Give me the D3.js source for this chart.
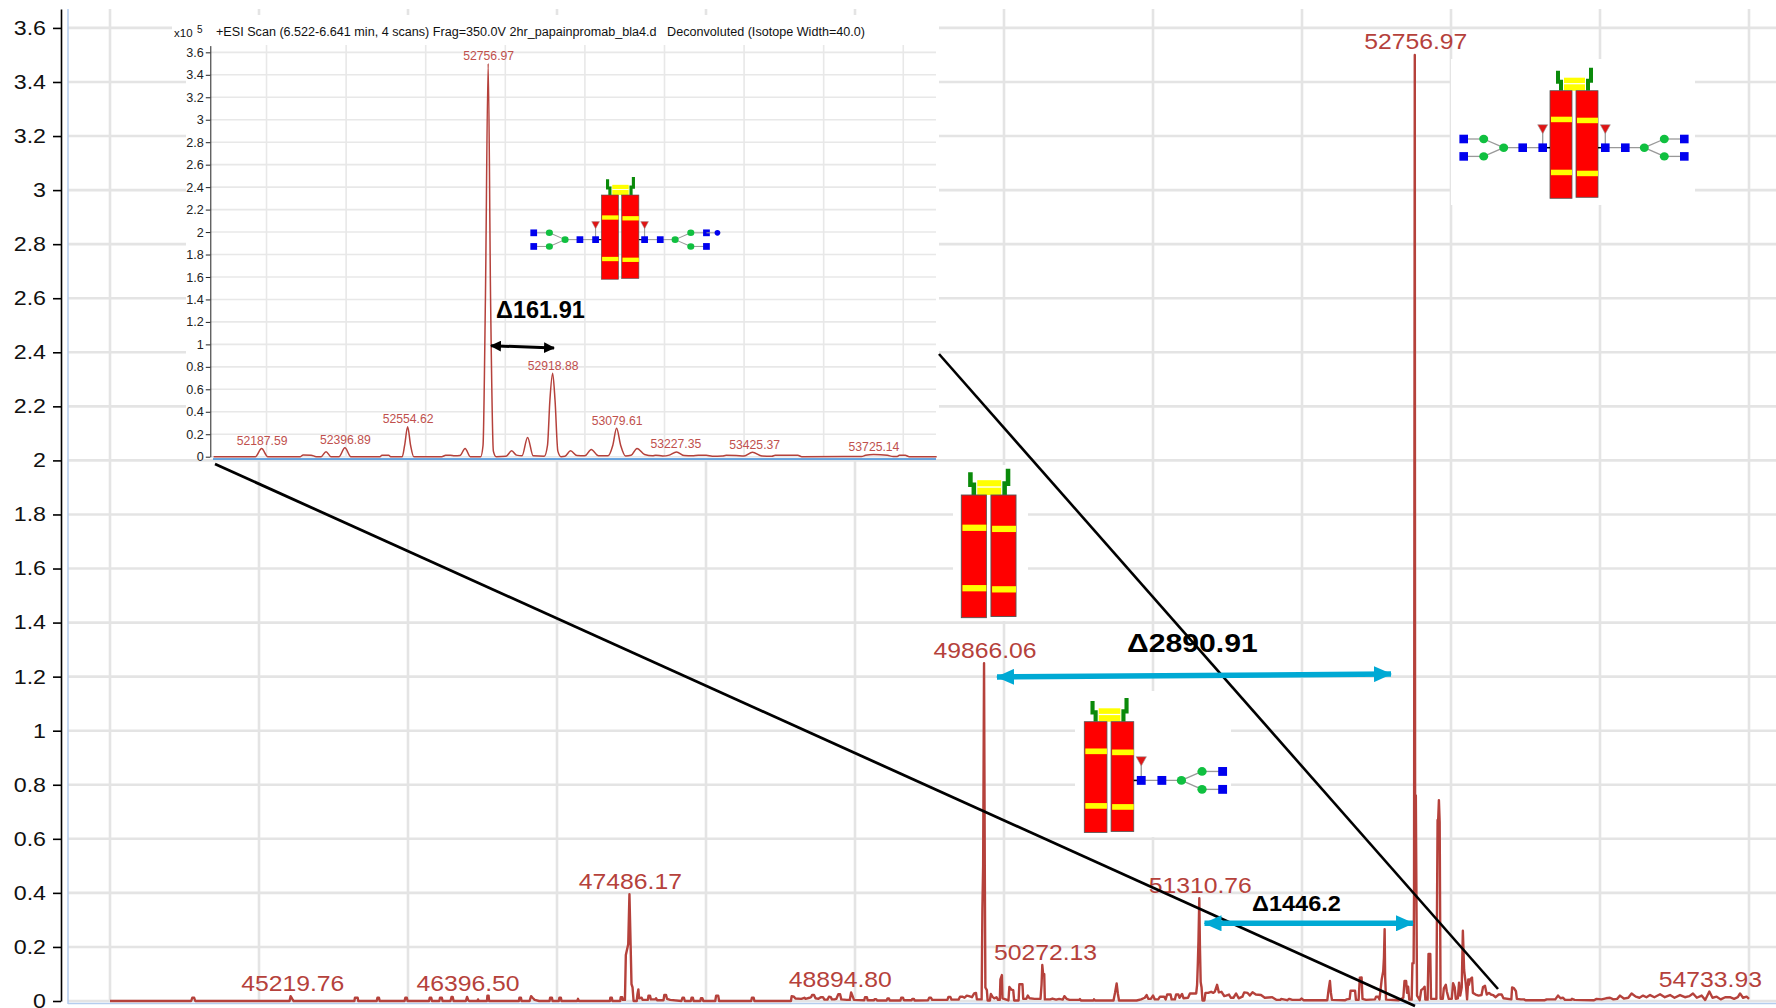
<!DOCTYPE html>
<html>
<head>
<meta charset="utf-8">
<script src="https://cdnjs.cloudflare.com/ajax/libs/d3/7.8.5/d3.min.js"></script>
<style>
  html, body { margin: 0; padding: 0; background: #fff; overflow: hidden; }
  text { font-family: "Liberation Sans", Arial, sans-serif; }
</style>
</head>
<body>
<div id="chart"></div>
<script>
// values: [mass, intensity x10^5]
const mainTrace = [
  [44000,0],[44545,0],[44552,.012],[44565,.012],[44572,0],[45205,0],[45212,.018],[45225,.006],[45232,0],
  [45640,0],[45644,.012],[45662,.012],[45666,0],[45790,0],[45795,.012],[45805,.012],[45810,0],
  [45977,0],[45982,.012],[45992,.012],[45997,0],[46141,0],[46146,.012],[46156,.012],[46161,0],
  [46210,0],[46215,.012],[46227,.012],[46232,0],[46285,0],[46292,.015],[46300,.015],[46306,0],
  [46388,0],[46396.5,.015],[46404,.004],[46410,0],[46466,0],[46470,.006],[46474,0],
  [46530,0],[46533,.02],[46541,.02],[46544,0],[46744,0],[46748,.012],[46758,.012],[46762,0],
  [46816,0],[46826,.018],[46836,.012],[46850,.004],[46880,0],[46950,0],[46954,.012],[46966,.012],[46970,0],
  [47012,0],[47016,.012],[47026,.012],[47030,0],[47135,0],[47141,.008],[47147,0],
  [47355,0],[47358,.012],[47368,.012],[47372,0],[47424,0],[47428,.014],[47438,.014],[47442,.004],
  [47456,.004],[47462,.17],[47478,.21],[47486.17,.395],[47494,.21],[47500,.062],[47507,.05],[47514,0],
  [47535,0],[47540,.025],[47546,.043],[47551,.01],[47568,.012],[47575,.004],[47610,.004],[47614,.02],[47624,.02],
  [47630,.006],[47660,.006],[47665,.01],[47672,.003],[47715,.003],[47720,.022],[47732,.022],[47738,.008],[47760,.004],
  [47835,0],[47842,.012],[47852,.012],[47858,0],[47898,0],[47903,.012],[47912,.012],[47917,0],
  [47962,0],[47966,.01],[47976,.01],[47982,0],[48062,0],[48068,.02],[48082,.02],[48088,0],
  [48303,0],[48308,.012],[48320,.012],[48325,0],[48570,0],[48575,.018],[48590,.016],[48600,.009],[48640,.008],
  [48660,.012],[48668,.008],[48695,.012],[48705,.014],[48712,.022],[48725,.022],[48735,.01],[48755,.008],
  [48770,.014],[48785,.014],[48795,.005],[48815,.005],[48825,.016],[48838,.014],[48845,.006],[48862,.006],
  [48875,.008],[48888,.025],[48900,.025],[48908,.006],[48945,.004],[48965,.004],[48974,.032],[48985,.016],[48993,.004],
  [49062,.003],[49067,.014],[49080,.014],[49085,.003],[49128,.003],[49132,.007],[49142,.007],[49148,.002],
  [49212,.002],[49218,.009],[49228,.009],[49233,.002],[49305,.002],[49310,.012],[49322,.012],[49328,.003],
  [49380,.003],[49385,.008],[49395,.008],[49400,.002],[49490,.003],[49498,.012],[49510,.012],[49518,.004],
  [49620,.004],[49627,.015],[49640,.015],[49648,.005],[49695,.005],[49705,.016],[49720,.016],[49735,.012],
  [49750,.02],[49765,.018],[49785,.014],[49800,.028],[49812,.03],[49818,.006],[49850,.006],[49855,.34],[49860,.5],
  [49866.06,1.25],[49871,.5],[49875,.05],[49885,.04],[49890,.002],[49905,.002],[49912,.026],[49922,.016],[49935,.01],
  [49950,.014],[49960,.004],[49972,.004],[49976,.08],[49986,.096],[49990,.01],[50030,.002],[50036,.052],[50050,.042],
  [50062,.04],[50068,.002],[50098,.002],[50103,.062],[50124,.062],[50129,.008],[50150,.008],[50160,.02],[50172,.01],
  [50205,.008],[50245,.008],[50252,.06],[50257,.133],[50262,.103],[50270,.1],[50274,.006],[50310,.006],[50325,.009],
  [50350,.005],[50370,.008],[50395,.005],[50405,.018],[50420,.008],[50440,.004],[50505,.004],[50510,.007],[50516,.002],
  [50600,.002],[50604,.006],[50610,.002],[50735,.002],[50745,.03],[50756,.065],[50764,.028],[50772,.002],
  [50890,.002],[50920,.006],[50945,.012],[50957,.022],[50968,.008],[50985,.008],[51000,.02],[51012,.006],[51035,.006],
  [51047,.016],[51075,.016],[51085,.006],[51095,.024],[51118,.024],[51125,.006],[51147,.006],[51155,.024],[51170,.024],
  [51178,.012],[51195,.026],[51205,.01],[51235,.012],[51248,.028],[51290,.028],[51296,.06],[51301,.14],[51305,.22],
  [51310.76,.38],[51315,.2],[51320,.07],[51326,.05],[51332,.002],[51345,.002],[51352,.03],[51370,.03],[51390,.034],
  [51405,.03],[51415,.035],[51430,.06],[51442,.032],[51460,.034],[51478,.018],[51490,.02],[51510,.024],[51522,.012],
  [51540,.012],[51558,.028],[51575,.01],[51600,.016],[51612,.032],[51635,.03],[51650,.02],[51668,.032],[51690,.024],
  [51725,.022],[51750,.012],[51800,.014],[51830,.004],[51855,.004],[51860,.008],[51900,.003],[51915,.008],[51935,.004],
  [51985,.004],[51998,.009],[52010,.003],[52170,.003],[52178,.04],[52187.59,.074],[52194,.03],[52201,.004],
  [52290,.003],[52300,.006],[52320,.008],[52326,.038],[52356,.038],[52362,.004],[52380,.004],[52388,.086],[52400,.087],
  [52406,.008],[52430,.004],[52490,.006],[52497,.016],[52510,.016],[52520,.006],[52535,.08],[52545,.11],[52550,.16],
  [52554.62,.266],[52558,.09],[52564,.005],[52650,.003],[52680,.012],[52688,.074],[52699,.074],[52705,.03],[52712,.053],
  [52720,.005],[52736,.005],[52741,.14],[52749,.14],[52752,.4],[52756.97,3.5],[52759,.76],[52764,.76],[52772,.02],
  [52790,.003],[52800,.04],[52815,.047],[52823,.053],[52828,.005],[52843,.005],[52849,.174],[52861,.174],[52866,.008],
  [52902,.008],[52910,.67],[52914,.67],[52918.88,.743],[52924,.66],[52930,.008],[52945,.008],[52952,.047],[52965,.06],
  [52972,.035],[52985,.008],[53005,.008],[53014,.066],[53025,.05],[53032,.008],[53046,.01],[53054,.068],[53062,.02],
  [53072,.05],[53079.61,.26],[53088,.115],[53100,.06],[53108,.006],[53116,.08],[53120,.06],[53128,.08],[53141,.087],
  [53147,.03],[53165,.024],[53185,.02],[53205,.022],[53215,.052],[53228,.056],[53240,.024],[53255,.03],[53268,.024],
  [53282,.022],[53300,.014],[53320,.024],[53340,.024],[53352,.01],[53405,.006],[53410,.05],[53422,.048],[53436,.036],
  [53442,.008],[53470,.006],[53490,.006],[53500,.003],[53630,.003],[53642,.006],[53700,.006],[53718,.02],[53735,.01],
  [53752,.012],[53765,.004],[53805,.004],[53812,.008],[53830,.004],[53960,.003],[53977,.008],[54010,.006],[54040,.01],
  [54067,.012],[54090,.006],[54115,.008],[54134,.02],[54160,.009],[54190,.012],[54212,.028],[54240,.016],[54265,.012],
  [54289,.02],[54312,.014],[54336,.022],[54365,.014],[54403,.025],[54435,.014],[54470,.022],[54500,.012],[54537,.022],
  [54570,.014],[54600,.018],[54624,.028],[54650,.012],[54682,.02],[54706,.004],[54733.93,.035],[54755,.012],[54783,.016],
  [54810,.006],[54840,.014],[54872,.014],[54900,.008],[54925,.014],[54940,.028],[54960,.012],[54984,.016],[55000,.008]
];
const insetTrace = [
  [52067,0],[52172,0],[52187.59,.072],[52203,0],[52285,0],[52292,.016],[52312,.014],[52325,0],[52337,0],[52349.5,.045],
  [52362,0],[52382,0],[52396.89,.08],[52412,0],[52485,0],[52490,.012],[52507,.012],[52512,0],[52541,0],[52547,.1],
  [52554.62,.267],[52562,.1],[52570,0],[52640,0],[52650,.012],[52662,.014],[52672,.008],[52686,.01],[52699,.074],
  [52712,0],[52738,0],[52744,.1],[52750,1.4],[52756.97,3.5],[52763,1.4],[52770,.05],[52777,0],[52802,.004],[52816,.053],
  [52828,.014],[52842,.008],[52856,.172],[52870,.008],[52898,.004],[52906,.1],[52912,.5],[52918.88,.742],[52925,.5],
  [52932,.05],[52940,0],[52950,.004],[52964,.053],[52980,.01],[53000,.008],[53016,.065],[53034,.008],[53058,.008],
  [53070,.1],[53079.61,.253],[53090,.1],[53102,.006],[53116,.012],[53131,.074],[53150,.02],[53170,.008],[53178,.014],
  [53195,.006],[53212,.014],[53230,.042],[53250,.01],[53270,.008],[53285,.012],[53305,.012],[53320,.004],[53345,.006],
  [53355,.012],[53380,.01],[53400,.006],[53421,.04],[53445,.006],[53470,.004],[53478,.012],[53535,.012],[53545,0],
  [53695,.002],[53705,.012],[53725.14,.02],[53760,.012],[53775,.002],[53785,.002],[53790,.012],[53805,.012],[53815,0],[53884,0]
];

const mainLabelMass = [45219.76, 46396.50, 47486.17, 48894.80, 49866.06, 50272.13, 51310.76, 52756.97, 54733.93];
const mainLabelHeight = [0.017, 0.015, 0.395, 0.03, 1.25, 0.133, 0.38, 3.5, 0.03];
const insetLabelMass = [52187.59, 52396.89, 52554.62, 52756.97, 52918.88, 53079.61, 53227.35, 53425.37, 53725.14];
const insetLabelHeight = [0.072, 0.08, 0.267, 3.5, 0.742, 0.253, 0.042, 0.04, 0.02];

const mainYTicks = [0,.2,.4,.6,.8,1,1.2,1.4,1.6,1.8,2,2.2,2.4,2.6,2.8,3,3.2,3.4,3.6];
const mainXGrid = [44000,45000,46000,47000,48000,49000,50000,51000,52000,53000,54000,55000];
const insetXGrid = [52200,52400,52600,52800,53000,53200,53400,53600,53800];

const width = 1776, height = 1008;
const red = "#b5413b", grid = "#e4e4e4", cyan = "#00a9d4";

const svg = d3.select("#chart").append("svg").attr("width", width).attr("height", height)
  .style("display", "block").style("background-color", "white");

const x = d3.scaleLinear().domain([44000, 55000]).range([110, 1749]);
const y = d3.scaleLinear().domain([0, 3.67]).range([1001, 9]);
const xInset = d3.scaleLinear().domain([52067, 53884]).range([213.6, 936.7]);
const yInset = d3.scaleLinear().domain([0, 3.66]).range([456.7, 45.6]);

// the reference text is wider than the font, probably a stretched screenshot
const stretch = (sel, k) => sel
  .attr("textLength", function () { return this.getComputedTextLength() * k; })
  .attr("lengthAdjust", "spacingAndGlyphs");

// Main gridlines
svg.append("g").selectAll("line").data(mainYTicks).join("line")
  .attr("x1", 68).attr("x2", width).attr("y1", (d) => y(d)).attr("y2", (d) => y(d))
  .attr("stroke", grid).attr("stroke-width", 2.6);
svg.append("g").selectAll("line").data(mainXGrid).join("line")
  .attr("x1", (d) => x(d)).attr("x2", (d) => x(d)).attr("y1", 9).attr("y2", 1002)
  .attr("stroke", grid).attr("stroke-width", 2.6);

// Light blue frame
svg.append("line").attr("x1", 68).attr("x2", 68).attr("y1", 9).attr("y2", 1004).attr("stroke", "#b4cdee").attr("stroke-width", 1.5);
svg.append("line").attr("x1", 68).attr("x2", width).attr("y1", 1003.5).attr("y2", 1003.5).attr("stroke", "#b4cdee").attr("stroke-width", 1.5);

// Main axis
const yAxis = svg.append("g").attr("transform", "translate(61,0)")
  .call(d3.axisLeft(y).tickValues(mainYTicks).tickFormat(d3.format("~g")).tickSize(8).tickSizeOuter(0).tickPadding(7));
yAxis.selectAll("path,line").attr("stroke", "#000").attr("stroke-width", 1.6);
yAxis.selectAll("text").attr("font-size", 20).attr("fill", "#111").style("font-family", "Liberation Sans").call(stretch, 1.16);

// Main trace
const mainLine = d3.line().x((d) => x(d[0])).y((d) => y(d[1]));
svg.append("path").datum(mainTrace).attr("d", mainLine)
  .attr("fill", "none").attr("stroke", red).attr("stroke-width", 2.4).attr("stroke-linejoin", "round");

svg.append("g").selectAll("text").data(mainLabelMass).join("text")
  .attr("x", (d) => x(d) + 1).attr("y", (d, i) => y(mainLabelHeight[i]) - 5.5)
  .attr("text-anchor", "middle").attr("font-size", 21.5).attr("fill", red)
  .text((d) => d.toFixed(2)).call(stretch, 1.15);

// White panels pasted over the main plot
const panels = [[186, 15, 753, 444], [1451, 59, 244, 146], [953, 465, 75, 156], [1075, 691, 156, 146]];
svg.append("g").selectAll("rect").data(panels).join("rect")
  .attr("x", (d) => d[0]).attr("y", (d) => d[1]).attr("width", (d) => d[2]).attr("height", (d) => d[3])
  .attr("fill", "#fff");

// Inset header
svg.append("rect").attr("x", 172).attr("y", 24).attr("width", 20).attr("height", 16).attr("fill", "#fff");
svg.append("text").attr("x", 174).attr("y", 37).attr("font-size", 11.5).attr("fill", "#111").text("x10");
svg.append("text").attr("x", 197).attr("y", 33).attr("font-size", 10).attr("fill", "#111").text("5");
svg.append("text").attr("x", 216).attr("y", 36).attr("font-size", 12).attr("fill", "#111")
  .attr("textLength", 649).attr("lengthAdjust", "spacingAndGlyphs").style("white-space", "pre")
  .text("+ESI Scan (6.522-6.641 min, 4 scans) Frag=350.0V 2hr_papainpromab_bla4.d   Deconvoluted (Isotope Width=40.0)");

// Inset gridlines
svg.append("g").selectAll("line").data(mainYTicks).join("line")
  .attr("x1", 210).attr("x2", 936).attr("y1", (d) => yInset(d)).attr("y2", (d) => yInset(d))
  .attr("stroke", "#e8e8e8").attr("stroke-width", 1.6);
svg.append("g").selectAll("line").data(insetXGrid).join("line")
  .attr("x1", (d) => xInset(d)).attr("x2", (d) => xInset(d)).attr("y1", 45).attr("y2", 457)
  .attr("stroke", "#e8e8e8").attr("stroke-width", 1.6);

// Inset axis
const yAxisInset = svg.append("g").attr("transform", "translate(210.3,0)")
  .call(d3.axisLeft(yInset).tickValues(mainYTicks).tickFormat(d3.format("~g")).tickSize(4.5).tickSizeOuter(0).tickPadding(2));
yAxisInset.selectAll("path,line").attr("stroke", "#222").attr("stroke-width", 1);
yAxisInset.selectAll("text").attr("font-size", 12.6).attr("fill", "#222").style("font-family", "Liberation Sans");

// Inset trace and baseline
svg.append("line").attr("x1", 213).attr("x2", 936).attr("y1", 459).attr("y2", 459).attr("stroke", "#3d8bd8").attr("stroke-width", 1.5);
const insetLine = d3.line().x((d) => xInset(d[0])).y((d) => yInset(d[1])).curve(d3.curveMonotoneX);
svg.append("path").datum(insetTrace).attr("d", insetLine)
  .attr("fill", "none").attr("stroke", red).attr("stroke-width", 1.5);

svg.append("g").selectAll("text").data(insetLabelMass).join("text")
  .attr("x", (d) => xInset(d) + 0.5).attr("y", (d, i) => yInset(insetLabelHeight[i]) - 3.5)
  .attr("text-anchor", "middle").attr("font-size", 12.2).attr("fill", "#c0504d")
  .text((d) => d.toFixed(2));

// Antibody cartoons, coordinates are relative to the top left of the left bar
const drawAntibody = (left, top, s, glycans) => {
  const g = svg.append("g").attr("transform", "translate(" + left + "," + top + ") scale(" + s + ")");
  // hinge
  g.append("rect").attr("x", 14).attr("y", -13).attr("width", 21).attr("height", 13).attr("fill", "#ffff00");
  g.append("line").attr("x1", 14).attr("x2", 35).attr("y1", -7).attr("y2", -7).attr("stroke", "#fff").attr("stroke-width", 1.2);
  g.append("path").attr("d", "M11,0V-9H8V-20").attr("fill", "none").attr("stroke", "#0a8a0a").attr("stroke-width", 4);
  g.append("path").attr("d", "M38,0V-10H41V-23").attr("fill", "none").attr("stroke", "#0a8a0a").attr("stroke-width", 4);
  // heavy chains
  [[0, 0], [26, 1]].forEach(([bx, dy]) => {
    g.append("rect").attr("x", bx).attr("y", 0).attr("width", 22).attr("height", 107.6 - dy)
      .attr("fill", "#ff0000").attr("stroke", "#555").attr("stroke-width", 0.8);
    [26 + dy, 79 + dy].forEach((sy) => {
      g.append("rect").attr("x", bx + 1).attr("y", sy).attr("width", 21).attr("height", 5.5).attr("fill", "#ffff00");
    });
  });

  const branch = (dir, start, extra) => {
    const px = (d) => start + dir * d;
    const links = [[0, 57, 39, 57], [39, 57, 59, 48.3], [39, 57, 59, 65.7], [59, 48.3, 79, 48.3], [59, 65.7, 79, 65.7], [0, 57, 0, 40]];
    g.selectAll(null).data(links).join("line")
      .attr("x1", (d) => px(d[0])).attr("y1", (d) => d[1]).attr("x2", (d) => px(d[2])).attr("y2", (d) => d[3])
      .attr("stroke", "#999").attr("stroke-width", 1.3);
    g.append("path").attr("d", "M" + (px(0) - 5) + ",34H" + (px(0) + 5) + "L" + px(0) + ",43Z")
      .attr("fill", "#e01414").attr("stroke", "#999").attr("stroke-width", 0.6);
    const squares = [[0, 57], [20, 57], [79, 48.3], [79, 65.7]];
    g.selectAll(null).data(squares).join("rect")
      .attr("x", (d) => px(d[0]) - 4.3).attr("y", (d) => d[1] - 4.3).attr("width", 8.6).attr("height", 8.6).attr("fill", "#0000ee");
    const circles = [[39, 57], [59, 48.3], [59, 65.7]];
    g.selectAll(null).data(circles).join("ellipse")
      .attr("cx", (d) => px(d[0])).attr("cy", (d) => d[1]).attr("rx", 4.5).attr("ry", 4.2).attr("fill", "#10c040");
    if (extra) {
      g.append("line").attr("x1", px(79)).attr("x2", px(97)).attr("y1", 48.3).attr("y2", 48.3).attr("stroke", "#999").attr("stroke-width", 1.3);
      g.append("circle").attr("cx", px(93)).attr("cy", 48.3).attr("r", 3.6).attr("fill", "#0000ee");
    }
  };
  if (glycans.right) {
    g.append("line").attr("x1", 48).attr("x2", 52).attr("y1", 57).attr("y2", 57).attr("stroke", "#000").attr("stroke-width", 1.5);
    branch(1, 55.3, glycans.extra);
  }
  if (glycans.left) {
    g.append("line").attr("x1", -4).attr("x2", 0).attr("y1", 57).attr("y2", 57).attr("stroke", "#000").attr("stroke-width", 1.5);
    branch(-1, -7.3, false);
  }
};
drawAntibody(601.3, 195, 0.783, { left: true, right: true, extra: true });
drawAntibody(1550, 90.7, 1, { left: true, right: true });
drawAntibody(961.3, 495, 1.14, {});
drawAntibody(1084.3, 721.7, 1.03, { right: true });

// Zoom lines from the inset down to the main plot
svg.append("line").attr("x1", 215).attr("y1", 464).attr("x2", 1415).attr("y2", 1006).attr("stroke", "#000").attr("stroke-width", 2.8);
svg.append("line").attr("x1", 939).attr("y1", 354).attr("x2", 1498).attr("y2", 989).attr("stroke", "#000").attr("stroke-width", 2.6);

// Double headed arrows
const marker = (id, color, w, h) => {
  svg.append("defs").append("marker").attr("id", id).attr("markerUnits", "userSpaceOnUse")
    .attr("viewBox", "0 0 " + w + " " + h).attr("markerWidth", w).attr("markerHeight", h)
    .attr("refX", w - 1).attr("refY", h / 2).attr("orient", "auto-start-reverse")
    .append("path").attr("d", "M0,0L" + w + "," + (h / 2) + "L0," + h + "Z").attr("fill", color);
};
marker("headBlack", "#000", 11, 11);
marker("headBlue", cyan, 18, 16);
const arrow = (x1, y1, x2, y2, color, head, sw) => svg.append("line")
  .attr("x1", x1).attr("y1", y1).attr("x2", x2).attr("y2", y2)
  .attr("stroke", color).attr("stroke-width", sw)
  .attr("marker-start", "url(#" + head + ")").attr("marker-end", "url(#" + head + ")");
arrow(491, 345.7, 554, 348, "#000", "headBlack", 3);
arrow(997, 677, 1391, 674, cyan, "headBlue", 5.5);
arrow(1204.5, 923.3, 1413, 923.3, cyan, "headBlue", 5.5);

// Mass difference labels
svg.append("text").attr("x", 496).attr("y", 318).attr("font-size", 23.5).attr("font-weight", "bold").attr("fill", "#000").text("Δ161.91");
svg.append("text").attr("x", 1127).attr("y", 652).attr("font-size", 26).attr("font-weight", "bold").attr("fill", "#000").text("Δ2890.91").call(stretch, 1.16);
svg.append("text").attr("x", 1252).attr("y", 911).attr("font-size", 22).attr("font-weight", "bold").attr("fill", "#000").text("Δ1446.2").call(stretch, 1.07);
</script>
</body>
</html>
